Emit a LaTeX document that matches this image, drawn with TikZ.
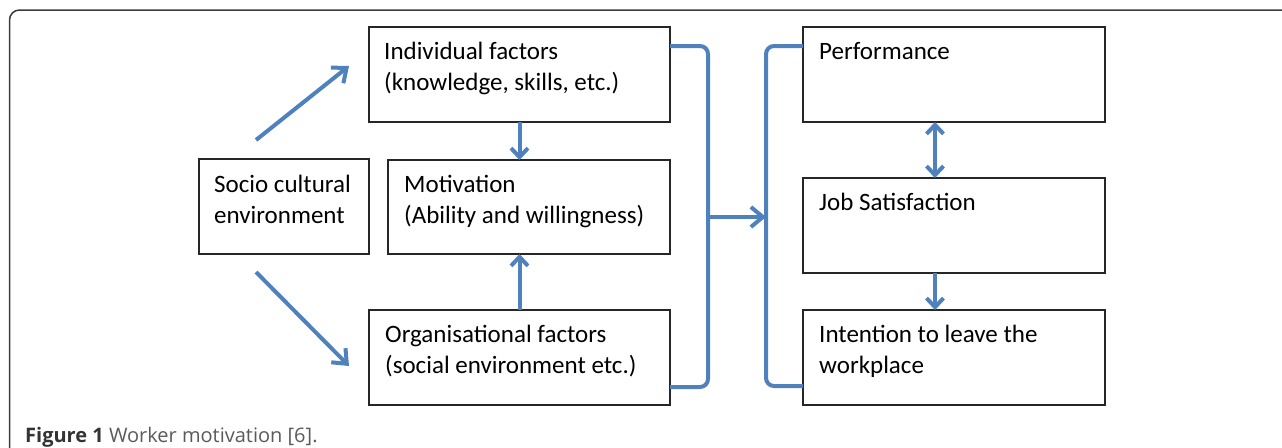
\documentclass[tikz,border=0pt]{standalone}
\usepackage{fontspec}
\setmainfont{Carlito}
\newfontfamily\capfont{Open Sans}
\usetikzlibrary{arrows.meta}
\definecolor{arrowblue}{HTML}{4F81BD}
\definecolor{framegray}{HTML}{3C3C3C}
\definecolor{capgray}{HTML}{5A5A5A}
\definecolor{boxline}{HTML}{262626}
\tikzset{
  box/.style={draw=boxline, line width=1.5pt, inner sep=0pt, outer sep=0pt, anchor=north west, minimum height=95pt},
  boxtext/.style={anchor=base west, inner sep=0pt, align=left, font=\fontsize{25}{31}\selectfont},
  blueline/.style={draw=arrowblue, line width=4pt},
  bigtip/.style={-{Straight Barb[length=12pt,width=20pt]}},
  smalltip/.style={-{Straight Barb[length=9pt,width=17pt]}},
  bothtip/.style={{Straight Barb[length=9pt,width=17pt]}-{Straight Barb[length=9pt,width=17pt]}}
}
\begin{document}
\begin{tikzpicture}[x=1pt,y=-1pt]
\useasboundingbox (0,0) rectangle (1282,447);
% outer frame
\draw[framegray, line width=1.5pt, rounded corners=10pt] (9.5,480) |- (1300,10);

% boxes
\node[box, minimum width=301pt] (ind) at (369,27) {};
\node[box, minimum width=282pt, minimum height=94pt] (mot) at (388,160) {};
\node[box, minimum width=170pt] (soc) at (199,159) {};
\node[box, minimum width=301pt] (org) at (369,310) {};
\node[box, minimum width=302pt] (perf) at (803,27) {};
\node[box, minimum width=302pt] (job) at (803,178) {};
\node[box, minimum width=302pt] (int) at (803,310) {};

% texts (base anchor of a two-line node is the last line's baseline)
\node[boxtext] (indt) at ([xshift=15pt,yshift=-63pt]ind.north west) {Individual factors\\(knowledge, skills, etc.)};
\node[boxtext] (mott) at ([xshift=16pt,yshift=-63pt]mot.north west) {Motivation\\(Ability and willingness)};
\node[boxtext] (soct) at ([xshift=15pt,yshift=-64pt]soc.north west) {Socio cultural\\environment};
\node[boxtext] (orgt) at ([xshift=16pt,yshift=-63pt]org.north west) {Organisational factors\\(social environment etc.)};
\node[boxtext] (perft) at ([xshift=16pt,yshift=-32pt]perf.north west) {Performance};
\node[boxtext] (jobt) at ([xshift=16pt,yshift=-32pt]job.north west) {Job Satisfaction};
\node[boxtext] (intt) at ([xshift=16pt,yshift=-63pt]int.north west) {Intention to leave the\\workplace};

% braces and middle arrow
\coordinate (lb) at (708,217);
\coordinate (rb) at (766,217);
\draw[blueline, rounded corners=8pt] ([yshift=-19pt]ind.north east) -| (lb) |- ([yshift=18pt]org.south east);
\draw[blueline, rounded corners=8pt] ([yshift=-19pt]perf.north west) -| (rb) |- ([yshift=19pt]int.south west);
\draw[blueline, bigtip] (lb) -- (rb);

% diagonal arrows
\coordinate (s1) at (256,140);
\coordinate (e1) at (349,66);
\coordinate (s2) at (256,272);
\coordinate (e2) at (349,366);
\draw[blueline, bigtip] (s1) -- (e1);
\draw[blueline, bigtip] (s2) -- (e2);

% vertical arrows
\draw[blueline, smalltip] (ind.south) -- (ind.south |- mot.north);
\draw[blueline, smalltip] (org.north) -- (org.north |- mot.south);
\draw[blueline, bothtip] ([xshift=-19pt]perf.south) -- ([xshift=-19pt]job.north);
\draw[blueline, smalltip] ([xshift=-19pt]job.south) -- ([xshift=-19pt]int.north);

% caption
\node[anchor=base west, inner sep=0pt, font=\capfont\fontsize{20}{23}\selectfont] (cap) at (25,442)
  {\textcolor{black!80}{\bfseries Figure 1} \textcolor{capgray}{Worker motivation [6].}};
\end{tikzpicture}
\end{document}
